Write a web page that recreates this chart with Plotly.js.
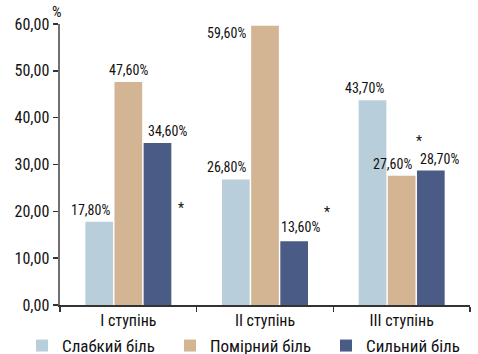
<!DOCTYPE html>
<html><head><meta charset="utf-8">
<script src="https://cdn.plot.ly/plotly-3.0.1.min.js"></script>
<style>body{margin:0;padding:0;}#chart{width:478px;height:354px;}</style>
</head><body><div id="chart"></div>
<script>
const categories = ["I ступінь", "II ступінь", "III ступінь"];
const seriesNames = ["Слабкий біль", "Помірний біль", "Сильний біль"];
const mildPain = [17.8, 26.8, 43.7];
const moderatePain = [47.6, 59.6, 27.6];
const severePain = [34.6, 13.6, 28.7];
const yTicks = [0, 10, 20, 30, 40, 50, 60];
const yTickLabels = ["0,00", "10,00", "20,00", "30,00", "40,00", "50,00", "60,00"];
const colors = ["#b8cfdb", "#d3b594", "#4a5b85"];

// label placement tweaks (pixels), per series, per category
const labelDx = [[-9, -9, -8], [0, -39, -9], [10, 6, 9]];
const labelDy = [[2, 2, 2], [2, -17, 2], [2, 4, 2]];
// legend entry left edges (pixels)
const legendX = [22, 170, 326];

const FONT = "'Roboto Condensed', 'Liberation Sans', Arial, sans-serif";
const fmt = v => v.toFixed(2).replace('.', ',') + '%';

const W = 478, H = 354;
const margin = {l: 60, r: 8, t: 24, b: 49};
const bargap = 0.36;
const plotW = W - margin.l - margin.r;
const plotH = H - margin.t - margin.b;
const slot = plotW / categories.length * (1 - bargap) / 3;

const seriesData = [mildPain, moderatePain, severePain];
const legendIds = ['legend', 'legend2', 'legend3'];
const traces = seriesData.map((vals, i) => ({
  type: 'bar', x: categories, y: vals, name: seriesNames[i],
  marker: {color: colors[i]}, legend: legendIds[i]
}));

const annotations = [
  {text: '%', xref: 'paper', yref: 'paper', x: -3 / plotW, y: 1 + 12 / plotH, xanchor: 'center', yanchor: 'middle', showarrow: false, font: {family: FONT, size: 15}},
  {text: '*', x: categories[0], y: 20.8, xshift: 53, showarrow: false, font: {family: FONT, size: 14}},
  {text: '*', x: categories[1], y: 19.9, xshift: 62, showarrow: false, font: {family: FONT, size: 14}},
  {text: '*', x: categories[2], y: 35.0, xshift: 17, showarrow: false, font: {family: FONT, size: 14}}
];
seriesData.forEach((vals, i) => {
  vals.forEach((v, j) => {
    annotations.push({
      text: fmt(v), x: categories[j], y: v, xanchor: 'center', yanchor: 'bottom',
      xshift: (i - 1) * slot + labelDx[i][j], yshift: labelDy[i][j],
      showarrow: false, font: {family: FONT, size: 14, color: '#111'}
    });
  });
});

const layout = {
  width: W, height: H, margin: margin,
  paper_bgcolor: '#fff', plot_bgcolor: '#fff',
  barmode: 'group', bargap: bargap, bargroupgap: 0.05,
  font: {family: FONT, size: 16, color: '#111'},
  xaxis: {showline: true, linecolor: '#333', linewidth: 1.5, ticks: 'outside', tickson: 'boundaries',
          ticklen: 5, tickcolor: '#333', tickwidth: 1.5, tickfont: {family: FONT, size: 16}, fixedrange: true},
  yaxis: {range: [0, 60], tickvals: yTicks, ticktext: yTickLabels, showline: true, linecolor: '#707070', linewidth: 2.5,
          ticks: 'outside', ticklen: 5, tickcolor: '#333', tickwidth: 1.5, showgrid: false, zeroline: false,
          tickfont: {family: FONT, size: 16}},
  showlegend: true,
  annotations: annotations
};
legendIds.forEach((id, i) => {
  layout[id] = {orientation: 'h', xref: 'container', yref: 'container', x: legendX[i] / W, xanchor: 'left',
                y: 8 / H, yanchor: 'middle', font: {family: FONT, size: 17}, itemwidth: 30, bgcolor: 'rgba(0,0,0,0)'};
});
Plotly.newPlot('chart', traces, layout, {displayModeBar: false, staticPlot: true});
</script></body></html>
